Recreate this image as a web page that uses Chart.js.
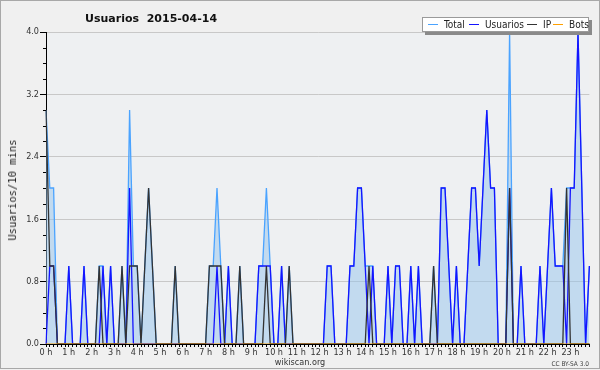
<!DOCTYPE html>
<html>
<head>
<meta charset="utf-8">
<script src="https://cdn.jsdelivr.net/npm/chart.js@4/dist/chart.umd.min.js"></script>
<style>
  html, body { margin: 0; padding: 0; background: #f0f0f0; }
  #wrap { position: relative; width: 600px; height: 370px; overflow: hidden; background: #f0f0f0; }
  #c { position: absolute; left: 0; top: 0; }
  #frame { position: absolute; left: 0; top: 0; width: 600px; height: 369px; box-sizing: border-box; border: 1px solid #a8a8a8; pointer-events: none; }
  .t { position: absolute; white-space: pre; color: #222; line-height: 1; }
  #title { left: 85px; top: 12px; font: bold 11px "DejaVu Sans", sans-serif; color: #111; }
  #ytitle { left: 11.5px; top: 190px; font: 10.5px "DejaVu Sans Mono", monospace; transform: translate(-50%, -50%) rotate(-90deg); color: #222; }
  #site { left: 300px; top: 362px; transform: translate(-50%, -50%); font: 9px "DejaVu Sans Condensed", "Liberation Sans", sans-serif; color: #333; }
  #cc { right: 11px; top: 364px; transform: translateY(-50%); font: 6.5px "DejaVu Sans Condensed", "Liberation Sans", sans-serif; color: #444; }
  #legend { position: absolute; left: 422px; top: 17px; width: 167px; height: 15px; background: #fff; border: 1px solid #9a9a9a; box-sizing: border-box; box-shadow: 3px 3px 0 #8a8a8a; }
  .li { position: absolute; top: 6px; height: 1px; width: 10px; }
  .lt { position: absolute; top: 1px; font: 10px "DejaVu Sans Condensed", "Liberation Sans", sans-serif; color: #222; white-space: pre; line-height: 12px; }
</style>
</head>
<body>
<div id="wrap">
  <canvas id="c" width="600" height="370"></canvas>
  <div id="title" class="t">Usuarios  2015-04-14</div>
  <div id="ytitle" class="t">Usuarios/10 mins</div>
  <div id="site" class="t">wikiscan.org</div>
  <div id="cc" class="t">CC BY-SA 3.0</div>
  <div id="legend"></div>
  <div id="frame"></div>
</div>
<script>
// ---- data (10-minute slots, 144 per day) ----
const hourLabels = ['0 h','1 h','2 h','3 h','4 h','5 h','6 h','7 h','8 h','9 h','10 h','11 h',
                    '12 h','13 h','14 h','15 h','16 h','17 h','18 h','19 h','20 h','21 h','22 h','23 h'];
const seriesNames = ['Total', 'Usuarios', 'IP', 'Bots'];
const seriesColors = ['#4aa3ff', '#1414ff', '#333333', '#ffa000'];

const total = [
  3,2,2,0,0,0,1,0,0,0,1,0,
  0,0,1,1,0,1,0,0,1,0,3,1,
  1,0,1,2,1,0,0,0,0,0,1,0,
  0,0,0,0,0,0,0,1,1,2,1,0,
  1,0,0,1,0,0,0,0,1,1,2,1,
  0,0,1,0,1,0,0,0,0,0,0,0,
  0,0,1,1,0,0,0,0,1,1,2,2,
  1,1,1,0,0,0,1,0,1,1,0,0,
  1,0,1,0,0,0,1,0,2,2,1,0,
  1,0,0,1,2,2,1,2,3,2,2,0,
  0,0,4,0,0,1,0,0,0,0,1,0,
  1,2,1,1,1,2,2,2,4,2,0,1
];
const usuarios = [
  0,1,1,0,0,0,1,0,0,0,1,0,
  0,0,0,1,0,1,0,0,0,0,2,0,
  0,0,0,0,0,0,0,0,0,0,0,0,
  0,0,0,0,0,0,0,0,0,1,0,0,
  1,0,0,0,0,0,0,0,1,1,1,1,
  0,0,1,0,0,0,0,0,0,0,0,0,
  0,0,1,1,0,0,0,0,1,1,2,2,
  1,0,1,0,0,0,1,0,1,1,0,0,
  1,0,1,0,0,0,0,0,2,2,1,0,
  1,0,0,1,2,2,1,2,3,2,2,0,
  0,0,2,0,0,1,0,0,0,0,1,0,
  1,2,1,1,1,0,2,2,4,2,0,1
];
const ip = [
  3,1,1,0,0,0,0,0,0,0,0,0,
  0,0,1,0,0,0,0,0,1,0,1,1,
  1,0,1,2,1,0,0,0,0,0,1,0,
  0,0,0,0,0,0,0,1,1,1,1,0,
  0,0,0,1,0,0,0,0,0,0,1,0,
  0,0,0,0,1,0,0,0,0,0,0,0,
  0,0,0,0,0,0,0,0,0,0,0,0,
  0,1,0,0,0,0,0,0,0,0,0,0,
  0,0,0,0,0,0,1,0,0,0,0,0,
  0,0,0,0,0,0,0,0,0,0,0,0,
  0,0,2,0,0,0,0,0,0,0,0,0,
  0,0,0,0,0,2,0,0,0,0,0,0
];
const bots = [
  0,0,0,0,0,0,0,0,0,0,0,0,
  0,0,0,0,0,0,0,0,0,0,0,0,
  0,0,0,0,0,0,0,0,0,0,0,0,
  0,0,0,0,0,0,0,0,0,0,0,0,
  0,0,0,0,0,0,0,0,0,0,0,0,
  0,0,0,0,0,0,0,0,0,0,0,0,
  0,0,0,0,0,0,0,0,0,0,0,0,
  0,0,0,0,0,0,0,0,0,0,0,0,
  0,0,0,0,0,0,0,0,0,0,0,0,
  0,0,0,0,0,0,0,0,0,0,0,0,
  0,0,0,0,0,0,0,0,0,0,0,0,
  0,0,0,0,0,0,0,0,0,0,0,0
];
const yMax = 4;
const yMinorStep = 0.2;

// slot labels: one category per 10 minutes
const slots = [];
hourLabels.forEach(h => { for (let m = 0; m < 6; m++) slots.push(m === 0 ? h : ''); });

// ---- HTML legend ----
const legendPos = [[5, 21], [46, 62], [104, 120], [130, 146]];
const lg = document.getElementById('legend');
seriesNames.forEach((n, i) => {
  const l = document.createElement('div');
  l.className = 'li'; l.style.left = legendPos[i][0] + 'px'; l.style.background = seriesColors[i];
  lg.appendChild(l);
  const t = document.createElement('div');
  t.className = 'lt'; t.style.left = legendPos[i][1] + 'px'; t.textContent = n;
  lg.appendChild(t);
});

const isMajor = v => Math.round(v * 10) % 8 === 0;

const plotBg = {
  id: 'plotBg',
  beforeDraw(chart) {
    const { ctx, chartArea: a } = chart;
    ctx.save();
    ctx.fillStyle = '#eef0f2';
    ctx.fillRect(a.left, a.top, a.right - a.left, a.bottom - a.top);
    ctx.restore();
  },
  afterDraw(chart) {
    const { ctx, chartArea: a } = chart;
    const ys = chart.scales.y;
    ctx.save();
    ctx.strokeStyle = '#000';
    ctx.lineWidth = 1;
    ctx.beginPath();
    for (let k = 0; k <= Math.round(yMax / yMinorStep); k++) {
      const v = k * yMinorStep;
      if (isMajor(v)) continue;
      const py = Math.round(ys.getPixelForValue(v)) + 0.5;
      ctx.moveTo(a.left - 3, py);
      ctx.lineTo(a.left, py);
    }
    ctx.stroke();
    ctx.restore();
  }
};

const tickFont = { family: '"DejaVu Sans Condensed", "Liberation Sans", sans-serif', size: 9 };

new Chart(document.getElementById('c'), {
  type: 'line',
  data: {
    labels: slots,
    datasets: [
      { label: seriesNames[0], data: total, borderColor: seriesColors[0], backgroundColor: 'rgba(150,195,235,0.5)', fill: 'origin', borderWidth: 1.3, pointRadius: 0, tension: 0, order: 4 },
      { label: seriesNames[1], data: usuarios, borderColor: seriesColors[1], fill: false, borderWidth: 1.3, pointRadius: 0, tension: 0, order: 3 },
      { label: seriesNames[2], data: ip, borderColor: seriesColors[2], fill: false, borderWidth: 1.3, pointRadius: 0, tension: 0, order: 2 },
      { label: seriesNames[3], data: bots, borderColor: seriesColors[3], fill: false, borderWidth: 1, pointRadius: 0, tension: 0, order: 1 }
    ]
  },
  options: {
    responsive: false,
    animation: false,
    devicePixelRatio: 1,
    layout: { padding: { top: 32, right: 10.6, left: 0, bottom: 0 } },
    plugins: { legend: { display: false }, title: { display: false }, tooltip: { enabled: false } },
    scales: {
      x: {
        type: 'category',
        offset: false,
        afterFit: s => { s.height = 26; },
        grid: { display: true, drawOnChartArea: false, tickLength: 3, color: '#000', tickColor: '#000' },
        border: { display: true, color: '#000', width: 1 },
        ticks: {
          autoSkip: false, maxRotation: 0, minRotation: 0, padding: 0,
          color: '#333', font: tickFont,
          callback: (v, i) => slots[i]
        }
      },
      y: {
        min: 0, max: yMax,
        afterFit: s => { s.width = 46; },
        grid: {
          drawOnChartArea: true, tickLength: 6,
          color: c => (c.tick && isMajor(c.tick.value) && c.tick.value > 0) ? '#c8c8c8' : 'rgba(0,0,0,0)',
          tickColor: c => (c.tick && isMajor(c.tick.value)) ? '#000' : 'rgba(0,0,0,0)'
        },
        border: { display: true, color: '#000', width: 1 },
        ticks: {
          stepSize: yMinorStep, autoSkip: false, padding: 1,
          color: '#333', font: tickFont,
          callback: v => isMajor(v) ? v.toFixed(1) : ''
        }
      }
    }
  },
  plugins: [plotBg]
});
</script>
</body>
</html>
